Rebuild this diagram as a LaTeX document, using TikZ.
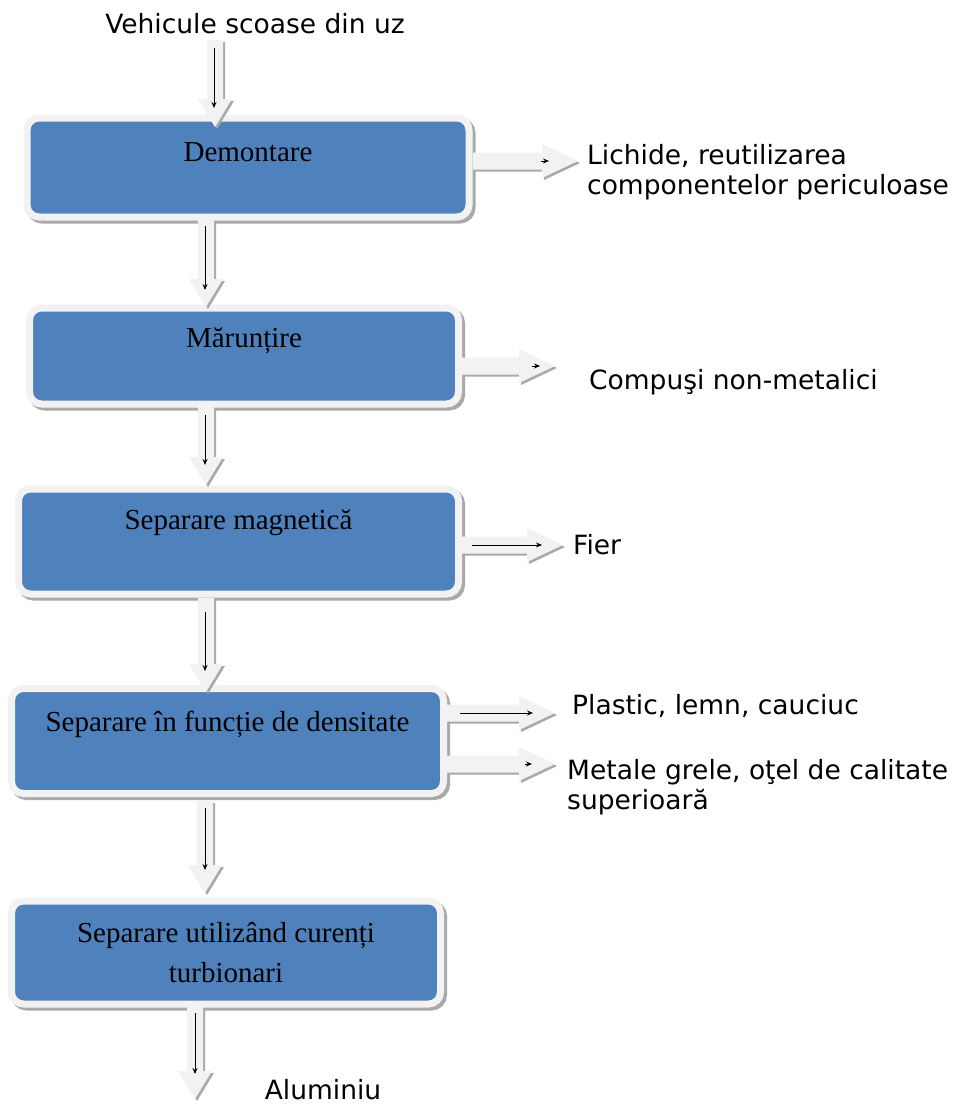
\documentclass[tikz,border=0pt]{standalone}
\usepackage{fontspec}
\setmainfont{Liberation Serif}
\newfontfamily\lblfont{DejaVu Sans}
\usetikzlibrary{calc,arrows.meta}
\definecolor{boxblue}{HTML}{4F81BD}
\definecolor{framegray}{HTML}{F2F2F2}
\definecolor{shadowgray}{HTML}{A9A9A9}
\definecolor{arrfill}{HTML}{F2F2F2}
\tikzset{
  procbox/.style={rounded corners=12pt, fill=boxblue, draw=framegray, line width=7pt,
    inner sep=0pt, outer sep=0pt,
    preaction={draw=shadowgray, fill=shadowgray, line width=7pt, transform canvas={shift={(3pt,-3pt)}}}},
  boxtext/.style={font=\fontsize{29}{33}\selectfont, align=center, inner sep=0pt, text=black},
  lbl/.style={font=\lblfont\fontsize{26.5}{30}\selectfont, align=left, inner sep=0pt, text=black},
  thinarrow/.style={draw=black, line width=0.9pt, -{Stealth[length=6pt,width=5pt]}}
}
% down block arrow from #1 (top) to #2 (tip)
\newcommand\blockdown[2]{%
  \fill[shadowgray] let \p1=(#1), \p2=(#2) in
    (\x1-8pt+2pt,\y1-2pt) -- (\x1+8pt+2pt,\y1-2pt) -- (\x1+8pt+2pt,\y2+28pt-2pt) -- (\x1+17pt+2pt,\y2+28pt-2pt)
    -- (\x1+2pt,\y2-2pt) -- (\x1-17pt+2pt,\y2+28pt-2pt) -- (\x1-8pt+2pt,\y2+28pt-2pt) -- cycle;
  \fill[arrfill] let \p1=(#1), \p2=(#2) in
    (\x1-8pt,\y1) -- (\x1+8pt,\y1) -- (\x1+8pt,\y2+28pt) -- (\x1+17pt,\y2+28pt)
    -- (\x1,\y2) -- (\x1-17pt,\y2+28pt) -- (\x1-8pt,\y2+28pt) -- cycle;
}
% right block arrow from #1 (start) to #2 (tip)
\newcommand\blockright[2]{%
  \fill[shadowgray] let \p1=(#1), \p2=(#2) in
    (\x1+2pt,\y1+8.5pt-2pt) -- (\x2-36pt+2pt,\y1+8.5pt-2pt) -- (\x2-36pt+2pt,\y1+17pt-2pt) -- (\x2+2pt,\y1-2pt)
    -- (\x2-36pt+2pt,\y1-17pt-2pt) -- (\x2-36pt+2pt,\y1-8.5pt-2pt) -- (\x1+2pt,\y1-8.5pt-2pt) -- cycle;
  \fill[arrfill] let \p1=(#1), \p2=(#2) in
    (\x1,\y1+8.5pt) -- (\x2-36pt,\y1+8.5pt) -- (\x2-36pt,\y1+17pt) -- (\x2,\y1)
    -- (\x2-36pt,\y1-17pt) -- (\x2-36pt,\y1-8.5pt) -- (\x1,\y1-8.5pt) -- cycle;
}
\begin{document}
\begin{tikzpicture}[x=1pt,y=-1pt]
\useasboundingbox[fill=white] (0,0) rectangle (957,1106);

% boxes
\node[procbox, minimum width=442pt, minimum height=99pt] (b1) at (248,167.5) {};
\node[procbox, minimum width=429pt, minimum height=96pt] (b2) at (244,356) {};
\node[procbox, minimum width=440pt, minimum height=105pt] (b3) at (238.5,541.5) {};
\node[procbox, minimum width=432pt, minimum height=105pt] (b4) at (227.5,741) {};
\node[procbox, minimum width=429pt, minimum height=103pt] (b5) at (226,952.5) {};

\node[boxtext] (t1) at ($(b1.north)+(0,34)$) {Demontare};
\node[boxtext] (t2) at ($(b2.north)+(0,33)$) {Mărunțire};
\node[boxtext] (t3) at ($(b3.north)+(0,34)$) {Separare magnetică};
\node[boxtext] (t4) at ($(b4.north)+(0,36)$) {Separare în funcție de densitate};
\node[boxtext, font=\fontsize{29}{40}\selectfont] (t5) at ($(b5.north)+(0,52)$) {Separare utilizând curenți\\turbionari};

% labels
\node[lbl] (top) at (255,24) {Vehicule scoase din uz};
\node[lbl, anchor=west] (l1) at (587,172) {Lichide, reutilizarea\\componentelor periculoase};
\node[lbl, anchor=west] (l2) at (589,382) {Compuşi non-metalici};
\node[lbl, anchor=west] (l3) at (573,545) {Fier};
\node[lbl, anchor=west] (l4) at (572,706) {Plastic, lemn, cauciuc};
\node[lbl, anchor=west] (l5) at (567,787.5) {Metale grele, oţel de calitate\\superioară};
\node[lbl] (alu) at (323,1090) {Aluminiu};

% down arrow anchor points
\coordinate (d0s) at (215,40);   \coordinate (d0e) at (215,127);
\coordinate (d1s) at (206,220);  \coordinate (d1e) at (206,307);
\coordinate (d2s) at (206,407);  \coordinate (d2e) at (206,485);
\coordinate (d3s) at (206,598);  \coordinate (d3e) at (206,692);
\coordinate (d4s) at (205,801);  \coordinate (d4e) at (205,893);
\coordinate (d5s) at (195,1007); \coordinate (d5e) at (195,1099);
% right arrow anchor points
\coordinate (r1s) at (473,161);  \coordinate (r1e) at (578,161);
\coordinate (r2s) at (462,366);  \coordinate (r2e) at (555,366);
\coordinate (r3s) at (462,545);  \coordinate (r3e) at (563,545);
\coordinate (r4s) at (447,713);  \coordinate (r4e) at (555,713);
\coordinate (r5s) at (447,764);  \coordinate (r5e) at (555,764);

\blockdown{d0s}{d0e}
\blockdown{d1s}{d1e}
\blockdown{d2s}{d2e}
\blockdown{d3s}{d3e}
\blockdown{d4s}{d4e}
\blockdown{d5s}{d5e}
\blockright{r1s}{r1e}
\blockright{r2s}{r2e}
\blockright{r3s}{r3e}
\blockright{r4s}{r4e}
\blockright{r5s}{r5e}

% thin arrows inside the block arrows
\draw[thinarrow] ($(d0s)+(-1,8)$) -- ($(d0s)+(-1,68)$);
\draw[thinarrow] ($(d1s)+(-1,6)$) -- ($(d1s)+(-1,70)$);
\draw[thinarrow] ($(d2s)+(-1,8)$) -- ($(d2s)+(-1,58)$);
\draw[thinarrow] ($(d3s)+(-1,14)$) -- ($(d3s)+(-1,73)$);
\draw[thinarrow] ($(d4s)+(0,7)$) -- ($(d4s)+(0,69)$);
\draw[thinarrow] ($(d5s)+(0,6)$) -- ($(d5s)+(0,67)$);
\draw[thinarrow] ($(r1s)+(68,0)$) -- ($(r1s)+(76,0)$);
\draw[thinarrow] ($(r2s)+(70,0)$) -- ($(r2s)+(78,0)$);
\draw[thinarrow] ($(r3s)+(10,0)$) -- ($(r3s)+(80,0)$);
\draw[thinarrow] ($(r4s)+(13,0)$) -- ($(r4s)+(86,0)$);
\draw[thinarrow] ($(r5s)+(78,0)$) -- ($(r5s)+(85,0)$);
\end{tikzpicture}
\end{document}
